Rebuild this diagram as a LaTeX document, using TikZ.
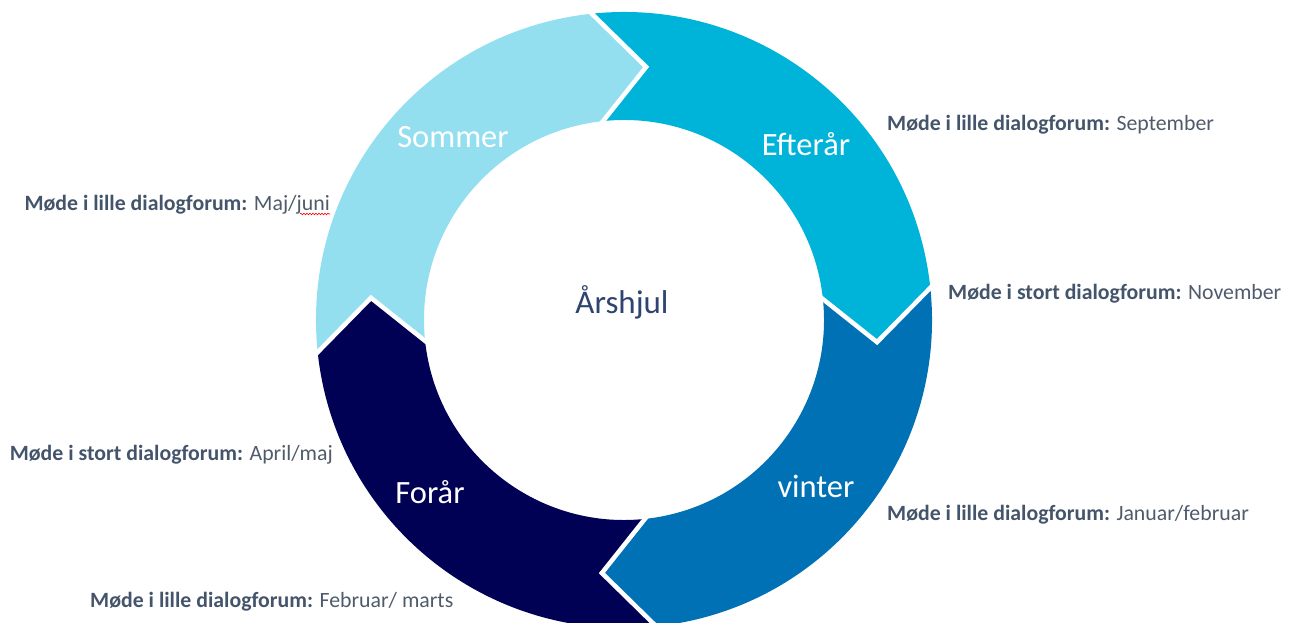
\documentclass[tikz,border=0pt]{standalone}
\usepackage{fontspec}
\setmainfont{Carlito}
\usetikzlibrary{calc,decorations.pathmorphing}
\definecolor{csommer}{HTML}{93DFF0}
\definecolor{cefteraar}{HTML}{00B3D8}
\definecolor{cvinter}{HTML}{0071B4}
\definecolor{cforaar}{HTML}{000055}
\definecolor{ctitle}{HTML}{2E4470}
\definecolor{cbold}{HTML}{44546A}
\definecolor{creg}{HTML}{4F5B6B}
\tikzset{
  seglabel/.style={text=white,font=\fontsize{32.5}{38}\selectfont,anchor=base,inner sep=0pt},
  sidelabel/.style={font=\fontsize{21.8}{26}\selectfont,text=creg,inner sep=0pt},
  gapline/.style={white,line width=4.5pt,line join=miter,line cap=butt}
}
\newcommand{\bl}[1]{{\bfseries\color{cbold}#1}}
\newcommand{\segpath}[2]{%
  (#1:308pt) arc[start angle=#1,end angle=#2,radius=308pt]
  -- ({#2-11}:254pt) -- (#2:200pt)
  arc[start angle=#2,end angle=#1,radius=200pt]
  -- ({#1-11}:254pt) -- cycle}
\begin{document}
\begin{tikzpicture}[x=1pt,y=1pt]
\useasboundingbox (0,0) rectangle (1294,622);
\begin{scope}[shift={(624pt,302pt)}]
  \fill[csommer] \segpath{186}{96};
  \fill[cefteraar] \segpath{96}{6};
  \fill[cvinter] \segpath{6}{-84};
  \fill[cforaar] \segpath{-84}{-174};
  \foreach \b in {96,6,-84,186}{
    \coordinate (tip\b) at ({\b-11}:254pt);
    \coordinate (out\b) at (\b:308pt);
    \coordinate (in\b) at (\b:200pt);
    \draw[gapline] ($(tip\b)!1.25!(out\b)$) -- (tip\b) -- ($(tip\b)!1.25!(in\b)$);
  }
\end{scope}
\node[seglabel] (sommer) at (453,474) {Sommer};
\node[seglabel] (efteraar) at (806,466) {Efterår};
\node[seglabel] (vinter) at (816,125) {vinter};
\node[seglabel] (foraar) at (430,119) {Forår};
\node[seglabel,text=ctitle,font=\fontsize{33}{38}\selectfont] (aarshjul) at (622,308) {Årshjul};
\node[sidelabel,anchor=base east] (l1) at (330,411) {\bl{Møde i lille dialogforum:} Maj/juni};
\node[sidelabel,anchor=base east] (l2) at (333,162) {\bl{Møde i stort dialogforum:} April/maj};
\node[sidelabel,anchor=base west] (l3) at (90,15) {\bl{Møde i lille dialogforum:} Februar/ marts};
\node[sidelabel,anchor=base west] (l4) at (887,491) {\bl{Møde i lille dialogforum:} September};
\node[sidelabel,anchor=base west] (l5) at (948,322) {\bl{Møde i stort dialogforum:} November};
\node[sidelabel,anchor=base west] (l6) at (887,102) {\bl{Møde i lille dialogforum:} Januar/februar};
\draw[red,line width=0.6pt,decorate,decoration={snake,amplitude=0.8pt,segment length=3pt}]
  ($(l1.base east)+(-30,-3)$) -- ($(l1.base east)+(0,-3)$);
\end{tikzpicture}
\end{document}
